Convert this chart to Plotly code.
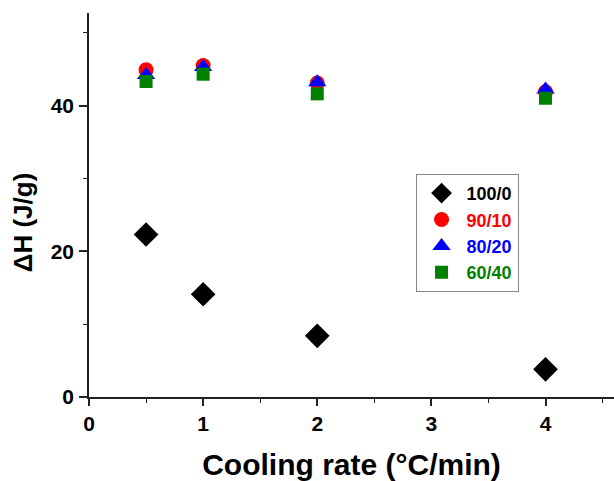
import plotly.graph_objects as go

rates = [0.5, 1, 2, 4]
series_names = ["100/0", "90/10", "80/20", "60/40"]
dh_100_0 = [22.3, 14.1, 8.4, 3.8]
dh_90_10 = [44.9, 45.5, 43.1, 41.9]
dh_80_20 = [44.2, 45.3, 43.2, 42.2]
dh_60_40 = [43.3, 44.3, 41.6, 41.0]

colors = ["black", "red", "blue", "green"]
symbols = ["diamond", "circle", "triangle-up", "square"]
sizes = [19, 15, 16, 13]
values = [dh_100_0, dh_90_10, dh_80_20, dh_60_40]

fig = go.Figure()
for i in [0, 1, 2, 3]:
    fig.add_trace(go.Scatter(
        x=rates, y=values[i], mode="markers",
        name=f"<span style='color:{colors[i]}'>{series_names[i]}</span>",
        marker=dict(symbol=symbols[i], color=colors[i], size=sizes[i], line=dict(width=0)),
    ))

font_family = "Liberation Sans, Arial, sans-serif"
fig.update_layout(
    width=614, height=481,
    margin=dict(l=89, r=0, t=13, b=84),
    paper_bgcolor="white", plot_bgcolor="white",
    font=dict(family=font_family, color="black"),
    showlegend=True,
    legend=dict(
        x=0.622, y=0.581, xanchor="left", yanchor="top",
        bordercolor="#888888", borderwidth=1, bgcolor="white",
        font=dict(size=18, family=font_family, weight="bold"),
        itemwidth=40, tracegroupgap=0,
    ),
    xaxis=dict(
        range=[0, 4.6], tickvals=[0, 1, 2, 3, 4], automargin=False,
        showgrid=False, zeroline=False,
        showline=True, linecolor="#222222", linewidth=1.5,
        ticks="outside", ticklen=7, tickwidth=1.5, tickcolor="#222222",
        minor=dict(tickvals=[0.5, 1.5, 2.5, 3.5, 4.5], ticks="outside", ticklen=4, tickwidth=1.2, tickcolor="#222222"),
        tickfont=dict(size=21, family=font_family, weight="bold"),
        title=dict(text="<b>Cooling rate (°C/min)</b>", font=dict(size=30, family=font_family), standoff=20),
    ),
    yaxis=dict(
        range=[0, 52.7], tickvals=[0, 20, 40], automargin=False,
        showgrid=False, zeroline=False,
        showline=True, linecolor="#222222", linewidth=1.5,
        ticks="outside", ticklen=8, tickwidth=1.5, tickcolor="#222222",
        minor=dict(tickvals=[10, 30, 50], ticks="outside", ticklen=4, tickwidth=1.2, tickcolor="#222222"),
        tickfont=dict(size=21, family=font_family, weight="bold"),
        ticklabelstandoff=1,
    ),
    annotations=[dict(
        text="<b>ΔH (J/g)</b>", textangle=-90, showarrow=False,
        xref="paper", yref="paper", x=-0.125, y=0.456,
        xanchor="center", yanchor="middle",
        font=dict(size=26, family=font_family, color="black"),
    )],
)

fig.write_html(
    "out.html",
    config={"displayModeBar": False},
    post_script="document.body.style.margin='0px';document.body.style.overflow='hidden';",
)
